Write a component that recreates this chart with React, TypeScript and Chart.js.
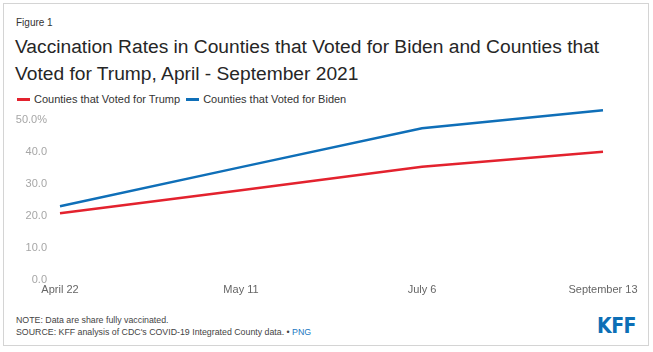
import React, { useEffect, useRef } from "react";
import { Chart, registerables } from "chart.js";

Chart.register(...registerables);

const categories = ["April 22", "May 11", "July 6", "September 13"];
const trumpValues = [20.8, 28.0, 35.3, 40.0];
const bidenValues = [23.0, 35.2, 47.3, 52.9];
const yTickValues = [0, 10, 20, 30, 40, 50];

const seriesNames = ["Counties that Voted for Trump", "Counties that Voted for Biden"];
const RED = "#e3222e";
const BLUE = "#0f6fb8";
const FONT = "'Liberation Sans', Arial, sans-serif";

export default function App() {
  const ref = useRef<HTMLCanvasElement | null>(null);

  useEffect(() => {
    if (!ref.current) return;
    const chart = new Chart(ref.current, {
      type: "line",
      data: {
        labels: categories,
        datasets: [
          {
            label: seriesNames[0],
            data: trumpValues,
            borderColor: RED,
            backgroundColor: RED,
            borderWidth: 2.5,
            pointRadius: 0,
            tension: 0,
          },
          {
            label: seriesNames[1],
            data: bidenValues,
            borderColor: BLUE,
            backgroundColor: BLUE,
            borderWidth: 2.5,
            pointRadius: 0,
            tension: 0,
          },
        ],
      },
      options: {
        animation: false,
        responsive: false,
        maintainAspectRatio: false,
        layout: { padding: { top: 0, right: 40, bottom: 0, left: 0 } },
        plugins: {
          legend: { display: false },
          tooltip: { enabled: false },
        },
        scales: {
          x: {
            type: "category",
            offset: false,
            grid: { display: false, drawTicks: false },
            border: { display: false },
            ticks: {
              padding: 3,
              color: "#666",
              font: { family: FONT, size: 11 },
              maxRotation: 0,
              autoSkip: false,
            },
            afterFit: (s: any) => {
              s.height = 20;
            },
          },
          y: {
            min: 0,
            max: 55,
            grid: { display: false, drawTicks: false },
            border: { display: false },
            afterBuildTicks: (s: any) => {
              s.ticks = yTickValues.map((v) => ({ value: v }));
            },
            ticks: {
              padding: 13,
              color: "#a6a6a6",
              font: { family: FONT, size: 11 },
              callback: (v: any) => {
                const n = Number(v);
                return n === 50 ? n.toFixed(1) + "%" : n.toFixed(1);
              },
            },
            afterFit: (s: any) => {
              s.width = 56;
            },
          },
        },
      },
    });
    return () => chart.destroy();
  }, []);

  const abs = (o: React.CSSProperties): React.CSSProperties => ({ position: "absolute", ...o });

  return (
    <div style={abs({ left: 0, top: 0, width: 653, height: 352, background: "#fff", fontFamily: FONT, overflow: "hidden" })}>
      <div style={abs({ left: 3, top: 3, width: 646, height: 343, border: "1px solid #d4d4d4", boxSizing: "border-box" })} />
      <div style={abs({ left: 16, top: 17, fontSize: 10, color: "#333", lineHeight: "12px" })}>Figure 1</div>
      <div style={abs({ left: 15, top: 33, fontSize: 19.2, color: "#262626", lineHeight: "27px", whiteSpace: "nowrap" })}>
        Vaccination Rates in Counties that Voted for Biden and Counties that
        <br />
        Voted for Trump, April - September 2021
      </div>
      <div style={abs({ left: 17, top: 92, height: 14, display: "flex", alignItems: "center", fontSize: 11, color: "#333", whiteSpace: "nowrap" })}>
        <span style={{ display: "inline-block", width: 13, height: 3, background: RED, marginRight: 4 }} />
        <span>{seriesNames[0]}</span>
        <span style={{ display: "inline-block", width: 13, height: 3, background: BLUE, marginLeft: 6, marginRight: 4 }} />
        <span>{seriesNames[1]}</span>
      </div>
      <canvas ref={ref} width={639} height={216} style={abs({ left: 4, top: 84, width: 639, height: 216 })} />
      <div style={abs({ left: 16, top: 314, fontSize: 8.8, color: "#444", lineHeight: "12px", whiteSpace: "nowrap" })}>
        NOTE: Data are share fully vaccinated.
        <br />
        SOURCE: KFF analysis of CDC's COVID-19 Integrated County data. • <span style={{ color: "#1a78c2" }}>PNG</span>
      </div>
      <div style={abs({ left: 597, top: 315, fontSize: 21, fontWeight: "bold", color: "#0d6fb6", lineHeight: "22px", fontFamily: "'Liberation Sans Narrow', 'DejaVu Sans Condensed', sans-serif", letterSpacing: -0.5 })}>
        KFF
      </div>
    </div>
  );
}
